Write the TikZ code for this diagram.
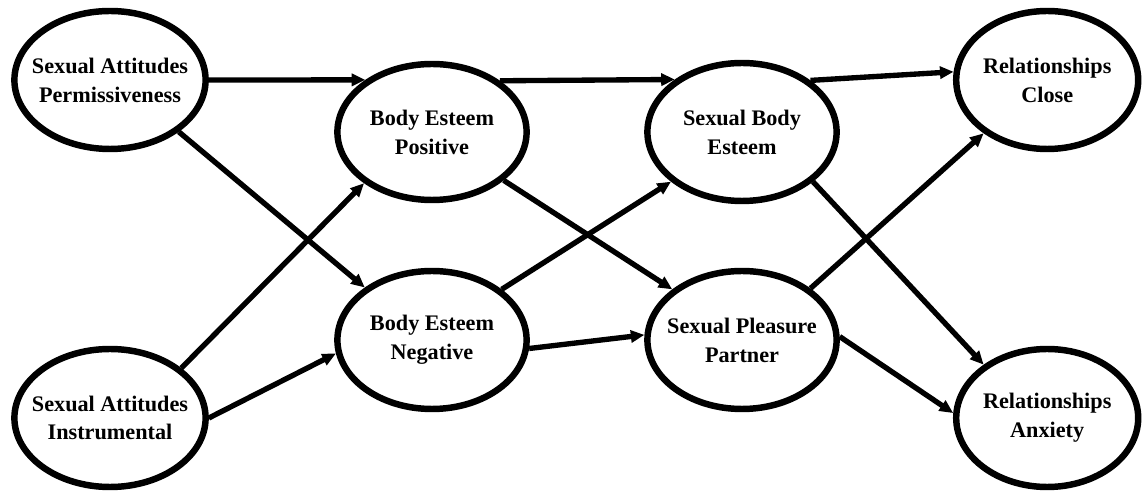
\documentclass[tikz,border=0pt]{standalone}
\usepackage{fontspec}
\setmainfont{Liberation Serif}
\usetikzlibrary{shapes.geometric, arrows.meta}

\tikzset{
    latent/.style={ellipse, draw, line width=4.6pt, minimum width=4.78cm, minimum height=3.45cm, inner sep=0pt},
    effect/.style={line width=3.8pt, -{Triangle[length=0.34cm, width=0.3cm]}},
    every label/.style={align=center, font=\bfseries\fontsize{15.8}{20.5}\selectfont}
}

\begin{document}
\begin{tikzpicture}
        \useasboundingbox (0, 0) rectangle (28.55, 12.3);

        % Sexual attitudes
        \node[latent, label={center:{Sexual Attitudes\\Permissiveness}}] (sap) at (2.75, 10.3) {};
        \node[latent, label={center:{Sexual Attitudes\\Instrumental}}] (sai) at (2.75, 1.85) {};

        % Body esteem
        \node[latent, minimum width=4.73cm, minimum height=3.4cm, label={center:{Body Esteem\\Positive}}] (bep) at (10.8, 9.0) {};
        \node[latent, minimum width=4.73cm, minimum height=3.45cm, label={center:{Body Esteem\\Negative}}] (ben) at (10.8, 3.8) {};

        % Sexual body esteem and pleasure
        \node[latent, minimum width=4.73cm, minimum height=3.45cm, label={center:{Sexual Body\\Esteem}}] (sbe) at (18.55, 9.0) {};
        \node[latent, minimum width=4.73cm, minimum height=3.45cm, label={center:{Sexual Pleasure\\Partner}}] (spp) at (18.55, 3.8) {};

        % Relationships
        \node[latent, minimum width=4.55cm, label={center:{Relationships\\Close}}] (rc) at (26.18, 10.3) {};
        \node[latent, minimum width=4.55cm, label={center:{Relationships\\Anxiety}}] (ra) at (26.18, 1.85) {};

        % Paths
        \foreach \a/\b in {sap.0/bep.142, sap.-37/ben.142, sai.35/bep.217, sai.0/ben.188,
                           bep.37/sbe.142, bep.-34/spp.144, ben.36/sbe.215, ben.-5/spp.177,
                           sbe.37/rc.175, sbe.-35/ra.140, spp.37/rc.220, spp.2/ra.177} {
            \draw[effect] (\a) -- (\b);
        }

    \end{tikzpicture}
\end{document}
